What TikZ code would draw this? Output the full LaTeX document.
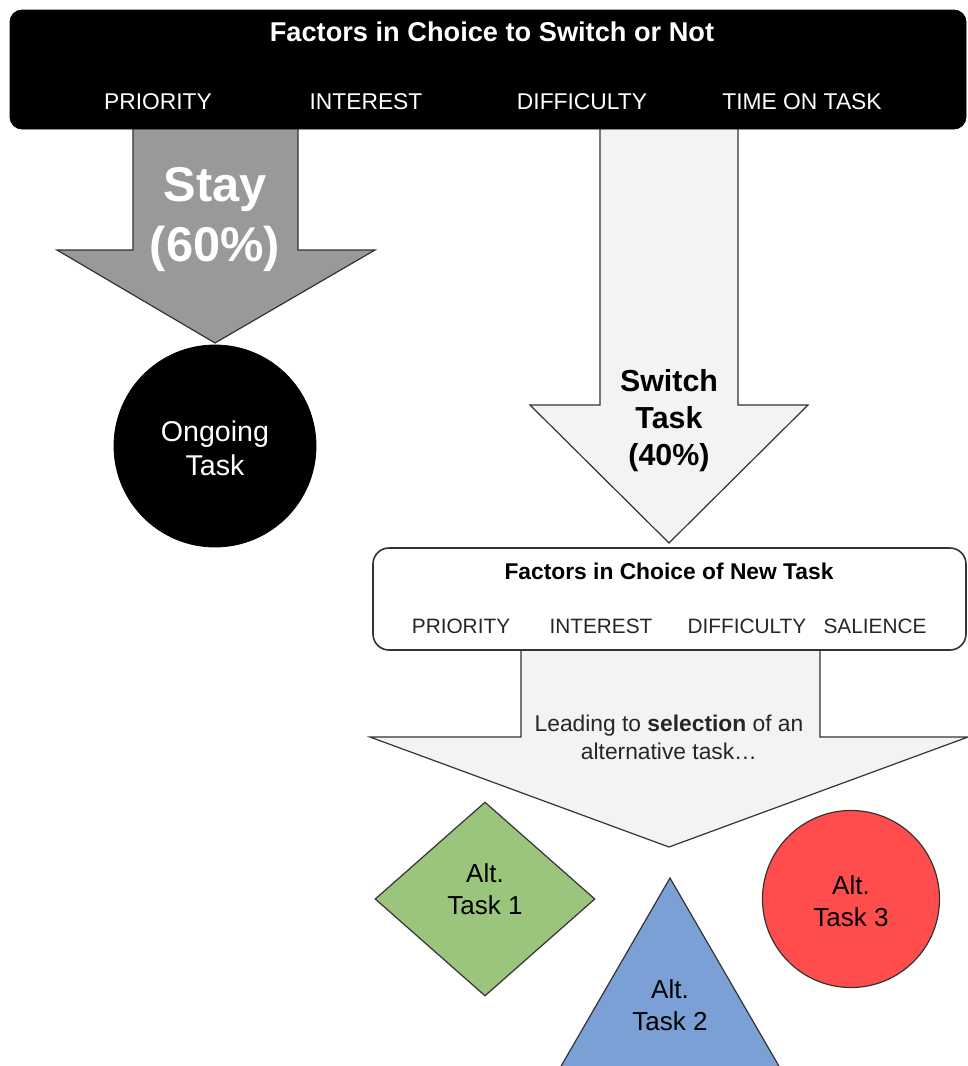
\documentclass[tikz,border=0pt]{standalone}
\usepackage{fontspec}
\setmainfont{Liberation Sans}
\usetikzlibrary{shapes.geometric}
\definecolor{stayg}{HTML}{999999}
\definecolor{lightg}{HTML}{F3F3F3}
\definecolor{altgreen}{HTML}{9BC47D}
\definecolor{altblue}{HTML}{7BA0D6}
\definecolor{altred}{HTML}{FF4D4D}
\definecolor{edge}{HTML}{333333}
\tikzset{
  blockarrow/.style={draw=edge, line width=0.6pt, line join=miter},
  topitem/.style={text=white, font=\fontsize{11.4}{13}\selectfont, inner sep=0pt},
  newitem/.style={text=black!85, font=\fontsize{10.4}{12}\selectfont, inner sep=0pt},
  alttext/.style={align=center, font=\fontsize{13}{16}\selectfont, inner sep=0pt},
}
\begin{document}
\begin{tikzpicture}[x=0.5pt,y=-0.5pt]
\useasboundingbox (0,0) rectangle (968,1066);
\clip (0,0) rectangle (968,1066);
% block arrows
\draw[blockarrow, fill=stayg] (133,125) -- (298,125) -- (298,250) -- (375,250) -- (215,343) -- (57,250) -- (133,250) -- cycle;
\draw[blockarrow, fill=lightg] (600,125) -- (738,125) -- (738,405) -- (808,405) -- (669,543) -- (530,405) -- (600,405) -- cycle;
\draw[blockarrow, fill=lightg] (521,645) -- (820,645) -- (820,737) -- (968,737) -- (669,847) -- (370,737) -- (521,737) -- cycle;
% top box
\node[draw=black, fill=black, rounded corners=6pt, minimum width=478pt, minimum height=59.5pt, inner sep=0pt] (top) at (488,69.5) {};
\node[text=white, font=\bfseries\fontsize{13.6}{15}\selectfont, inner sep=0pt] (toptitle) at (492,32) {Factors in Choice to Switch or Not};
\node[topitem] (t1) at (158,102) {PRIORITY};
\node[topitem] (t2) at (366,102) {INTEREST};
\node[topitem] (t3) at (582,102) {DIFFICULTY};
\node[topitem] (t4) at (802,102) {TIME ON TASK};
% stay
\node[text=white, align=center, font=\bfseries\fontsize{24.4}{30}\selectfont, inner sep=0pt] (stay) at (215,220) {Stay\\(60\%)};
\node[circle, draw=black, fill=black, minimum size=101pt, inner sep=0pt] (ongoing) at (215,446) {};
\node[text=white, align=center, font=\fontsize{14.3}{17}\selectfont, inner sep=0pt] (ongoingtext) at (215,448) {Ongoing\\Task};
% switch
\node[align=center, font=\bfseries\fontsize{15.2}{18.5}\selectfont, inner sep=0pt] (switch) at (669,421) {Switch\\Task\\(40\%)};
% new task box
\node[draw=edge, fill=white, line width=0.8pt, rounded corners=8pt, minimum width=296.5pt, minimum height=51pt, inner sep=0pt] (newbox) at (669.5,599) {};
\node[font=\bfseries\fontsize{11.4}{13}\selectfont, inner sep=0pt] (newtitle) at (669,571) {Factors in Choice of New Task};
\node[newitem] (n1) at (461,626) {PRIORITY};
\node[newitem] (n2) at (601,626) {INTEREST};
\node[newitem] (n3) at (747,626) {DIFFICULTY};
\node[newitem] (n4) at (875,626) {SALIENCE};
\node[align=center, text=black!85, font=\fontsize{11.4}{14}\selectfont, inner sep=0pt] (leading) at (669,737) {Leading to \textbf{selection} of an\\alternative task\ldots};
% alternatives
\node[diamond, draw=edge, fill=altgreen, line width=0.6pt, minimum width=110pt, minimum height=97pt, inner sep=0pt] (alt1) at (485,899) {};
\node[alttext] (alt1text) at (485,889) {Alt.\\Task 1};
\draw[draw=edge, fill=altblue, line width=0.6pt] (670,878) -- (787,1080) -- (553,1080) -- cycle;
\coordinate (alt2) at (670,1005);
\node[alttext] (alt2text) at (alt2) {Alt.\\Task 2};
\node[circle, draw=edge, fill=altred, line width=0.6pt, minimum size=88.5pt, inner sep=0pt] (alt3) at (851,899) {};
\node[alttext] (alt3text) at (851,901) {Alt.\\Task 3};
\end{tikzpicture}
\end{document}
